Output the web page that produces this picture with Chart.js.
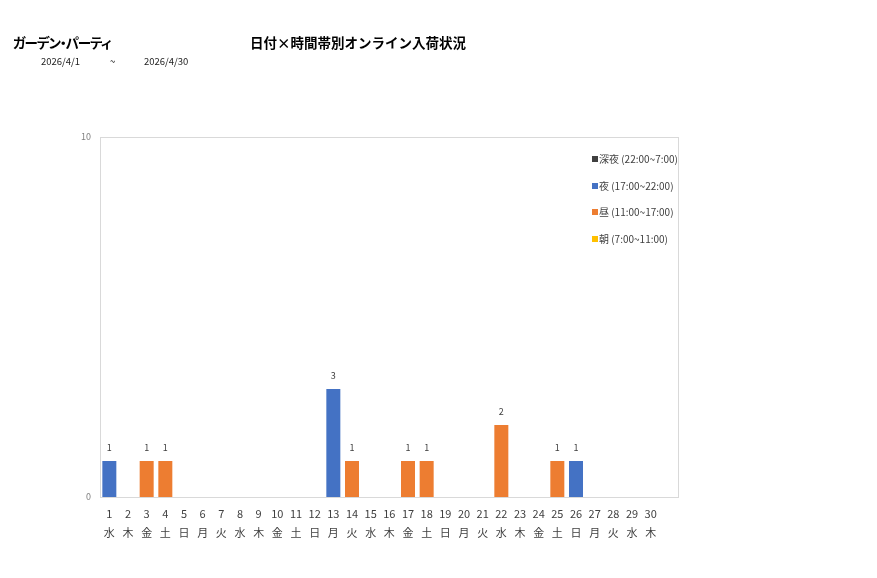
<!DOCTYPE html>
<html><head><meta charset="utf-8">
<script src="https://cdn.jsdelivr.net/npm/chart.js@4.4.1/dist/chart.umd.min.js"></script>
<style>
html,body{margin:0;padding:0;background:#fff}
#wrap{width:877px;height:578px;position:relative}
.t{position:absolute;white-space:nowrap;font-family:"Noto Sans CJK JP","Noto Sans",sans-serif;line-height:1;color:#000}
#shop{left:13px;top:36px;font-size:13.5px;font-weight:bold;font-feature-settings:"palt";letter-spacing:-1px}
#title{left:250px;top:36px;font-size:13.5px;font-weight:bold}
.d{top:57px;font-size:9.5px;color:#222}
</style>
</head><body><div id="wrap"><canvas id="c" width="877" height="578"></canvas>
<div class="t" id="shop"></div><div class="t" id="title"></div>
<div class="t d" id="d1" style="left:41px"></div><div class="t d" style="left:110px">~</div><div class="t d" id="d2" style="left:144px"></div>
</div>
<script>
const days = ['1','2','3','4','5','6','7','8','9','10','11','12','13','14','15','16','17','18','19','20','21','22','23','24','25','26','27','28','29','30'];
const weekdays = ['水','木','金','土','日','月','火','水','木','金','土','日','月','火','水','木','金','土','日','月','火','水','木','金','土','日','月','火','水','木'];
const seriesNames = ['深夜 (22:00~7:00)','夜 (17:00~22:00)','昼 (11:00~17:00)','朝 (7:00~11:00)'];
const seriesColors = ['#404040','#4472C4','#ED7D31','#FFC000'];
const deepNight = [0,0,0,0,0,0,0,0,0,0,0,0,0,0,0,0,0,0,0,0,0,0,0,0,0,0,0,0,0,0];
const night     = [1,0,0,0,0,0,0,0,0,0,0,0,3,0,0,0,0,0,0,0,0,0,0,0,0,1,0,0,0,0];
const daytime   = [0,0,1,1,0,0,0,0,0,0,0,0,0,1,0,0,1,1,0,0,0,2,0,0,1,0,0,0,0,0];
const morning   = [0,0,0,0,0,0,0,0,0,0,0,0,0,0,0,0,0,0,0,0,0,0,0,0,0,0,0,0,0,0];
const yTicks = [0,10];
const shopName = 'ガーデン・パーティ';
const chartTitle = '日付×時間帯別オンライン入荷状況';
const dateFrom = '2026/4/1', dateTo = '2026/4/30';

document.getElementById('shop').textContent = shopName;
document.getElementById('title').textContent = chartTitle;
document.getElementById('d1').textContent = dateFrom;
document.getElementById('d2').textContent = dateTo;

const FONT = '"Noto Sans CJK JP", "Noto Sans", sans-serif';
const seriesData = [deepNight, night, daytime, morning];

const extras = {
  id: 'extras',
  beforeDraw(chart) {
    const ctx = chart.ctx, a = chart.chartArea;
    ctx.save();
    ctx.fillStyle = '#fff';
    ctx.fillRect(0, 0, chart.width, chart.height);
    ctx.strokeStyle = '#d9d9d9';
    ctx.lineWidth = 1;
    ctx.strokeRect(Math.round(a.left) + 0.5, Math.round(a.top) + 0.5, Math.round(a.right - a.left + 18), Math.round(a.bottom - a.top));
    ctx.restore();
  },
  afterDraw(chart) {
    const ctx = chart.ctx;
    const xs = chart.scales.x, ys = chart.scales.y;
    ctx.save();
    ctx.textBaseline = 'middle';
    ctx.font = '9px ' + FONT;
    ctx.fillStyle = '#404040';
    ctx.textAlign = 'center';
    for (let i = 0; i < days.length; i++) {
      let t = 0;
      seriesData.forEach(s => t += s[i]);
      if (t > 0) {
        ctx.fillText(String(t), xs.getPixelForValue(i), ys.getPixelForValue(t) - 13);
      }
    }
    const lx = 592, ly = [159, 186, 212, 239];
    ctx.textAlign = 'left';
    ctx.font = '10px ' + FONT;
    chart.data.datasets.forEach((ds, k) => {
      ctx.fillStyle = ds.backgroundColor;
      ctx.fillRect(lx, ly[k] - 3, 6, 6);
      ctx.fillStyle = '#404040';
      ctx.fillText(ds.label, lx + 7, ly[k]);
    });
    ctx.restore();
  }
};

new Chart(document.getElementById('c'), {
  type: 'bar',
  data: {
    labels: days.map((d, i) => [d, weekdays[i]]),
    datasets: seriesNames.map((n, k) => ({
      label: n,
      data: seriesData[k],
      backgroundColor: seriesColors[k],
      borderWidth: 0,
      barPercentage: 0.75,
      categoryPercentage: 1.0
    }))
  },
  options: {
    responsive: false,
    animation: false,
    layout: { padding: { left: 70, right: 217, top: 137, bottom: 27 } },
    plugins: { legend: { display: false }, title: { display: false }, tooltip: { enabled: false } },
    scales: {
      x: {
        stacked: true,
        grid: { display: false },
        border: { display: false },
        ticks: { color: '#404040', font: { size: 11, family: FONT, lineHeight: 1.75 }, maxRotation: 0, autoSkip: false, padding: -1 },
        afterFit(s) { s.height = 54; }
      },
      y: {
        stacked: true,
        min: 0, max: 10,
        afterBuildTicks(s) { s.ticks = yTicks.map(v => ({ value: v })); },
        grid: { display: false },
        border: { display: false },
        ticks: { color: '#808080', font: { size: 9, family: FONT }, padding: 1 },
        afterFit(s) { s.width = 30; }
      }
    }
  },
  plugins: [extras]
});
</script></body></html>
